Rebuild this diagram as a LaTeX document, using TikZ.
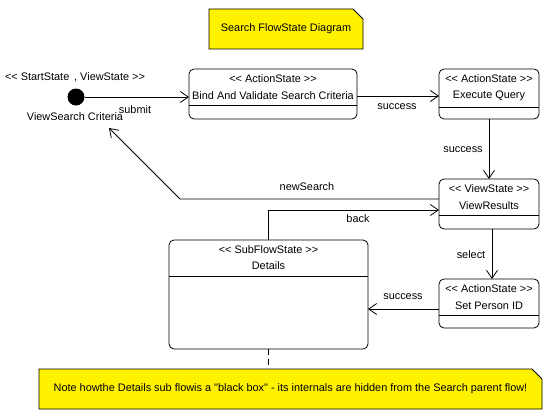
\documentclass[tikz,border=0pt]{standalone}
\usetikzlibrary{arrows.meta,backgrounds}
\font\uml="Liberation Sans" at 10.9pt
\tikzset{
  x=1pt, y=-1pt,
  every node/.style={font=\uml, inner sep=0pt, outer sep=0pt},
  statebox/.style={draw, line width=0.8pt, rounded corners=5pt},
  lbl/.style={anchor=center},
  flow/.style={draw, line width=0.8pt, -{Straight Barb[length=8pt,width=11pt,line width=0.8pt]}},
  notefill/.style={fill=yellow, draw, line width=0.8pt},
  divider/.style={draw, line width=0.8pt}
}
\begin{document}
\begin{tikzpicture}
\useasboundingbox (0,0) rectangle (554,412);
% title note
\node (title) [minimum width=154pt, minimum height=40pt] at (286,29) {Search FlowState Diagram};
\begin{scope}[on background layer]
\path[notefill] (title.north west) -- ([xshift=-10pt]title.north east) -- ([yshift=-10pt]title.north east) -- (title.south east) -- (title.south west) -- cycle;
\end{scope}

% start state
\node (start) [circle, fill=black, minimum size=17pt] at (76,97) {};
\node (startst) [lbl] at (75,77) {<< StartState \,, ViewState >>};
\node (vsc) [lbl] at (75,117) {ViewSearch Criteria};
\coordinate (vsctip) at (109,128);

% Bind
\node (bind) [statebox, minimum width=168pt, minimum height=50pt] at (273,94) {};
\node (bindst) [lbl] at (273,79) {<< ActionState >>};
\node (bindnm) [lbl] at (273,96) {Bind And Validate Search Criteria};
\path[divider] (bind.west |- 0,105) -- (bind.east |- 0,105);

% Execute
\node (exec) [statebox, minimum width=100pt, minimum height=50pt] at (489,94) {};
\node (execst) [lbl] at (489,79) {<< ActionState >>};
\node (execnm) [lbl] at (489,96) {Execute Query};
\path[divider] (exec.west |- 0,107) -- (exec.east |- 0,107);

% View Results
\node (view) [statebox, minimum width=100pt, minimum height=50pt] at (489,204) {};
\node (viewst) [lbl] at (489,189) {<< ViewState >>};
\node (viewnm) [lbl] at (489,206) {ViewResults};
\path[divider] (view.west |- 0,215) -- (view.east |- 0,215);

% Set Person ID
\node (setp) [statebox, minimum width=100pt, minimum height=49pt] at (489,303.5) {};
\node (setpst) [lbl] at (489,289) {<< ActionState >>};
\node (setpnm) [lbl] at (489,306) {Set Person ID};
\path[divider] (setp.west |- 0,315) -- (setp.east |- 0,315);

% Details
\node (details) [statebox, minimum width=199pt, minimum height=109pt] at (268.5,294.5) {};
\node (detst) [lbl] at (268.5,250) {<< SubFlowState >>};
\node (detnm) [lbl] at (268.5,266) {Details};
\path[divider] (details.west |- 0,276) -- (details.east |- 0,276);

% bottom note
\node (note) [minimum width=503pt, minimum height=40pt] at (290.5,389) {Note howthe Details sub flowis a "black box" - its internals are hidden from the Search parent flow!};
\begin{scope}[on background layer]
\path[notefill] (note.north west) -- ([xshift=-10pt]note.north east) -- ([yshift=-10pt]note.north east) -- (note.south east) -- (note.south west) -- cycle;
\end{scope}

% connectors
\path[flow] (start.east) -- (start.east -| bind.west);
\node (lsubmit) [lbl] at (135,110) {submit};

\path[flow] ([yshift=-2pt]bind.east) -- ([yshift=-2pt]bind.east -| exec.west);
\node (lsucc1) [lbl] at (397,107) {success};

\path[flow] (exec.south) -- (view.north);
\node (lsucc2) [lbl] at (463,150) {success};

\coordinate (nsbend) at (180,199);
\path[flow] ([yshift=5pt]view.west) -- (nsbend) -- (vsctip);
\node (lnews) [lbl] at (307,187) {newSearch};

\coordinate (backbend) at (details.north |- 0,210);
\path[flow] (details.north) -- (backbend) -- (backbend -| view.west);
\node (lback) [lbl] at (358,219) {back};

\path[flow] ([xshift=3pt]view.south) -- ([xshift=3pt]setp.north);
\node (lselect) [lbl] at (471,255) {select};

\path[flow] ([yshift=-5.5pt]setp.west) -- ([yshift=-5.5pt]setp.west -| details.east);
\node (lsucc3) [lbl] at (403,297) {success};

\draw[dashed, line width=0.8pt, dash pattern=on 6pt off 4pt] (details.south) -- (details.south |- note.north);
\end{tikzpicture}
\end{document}
